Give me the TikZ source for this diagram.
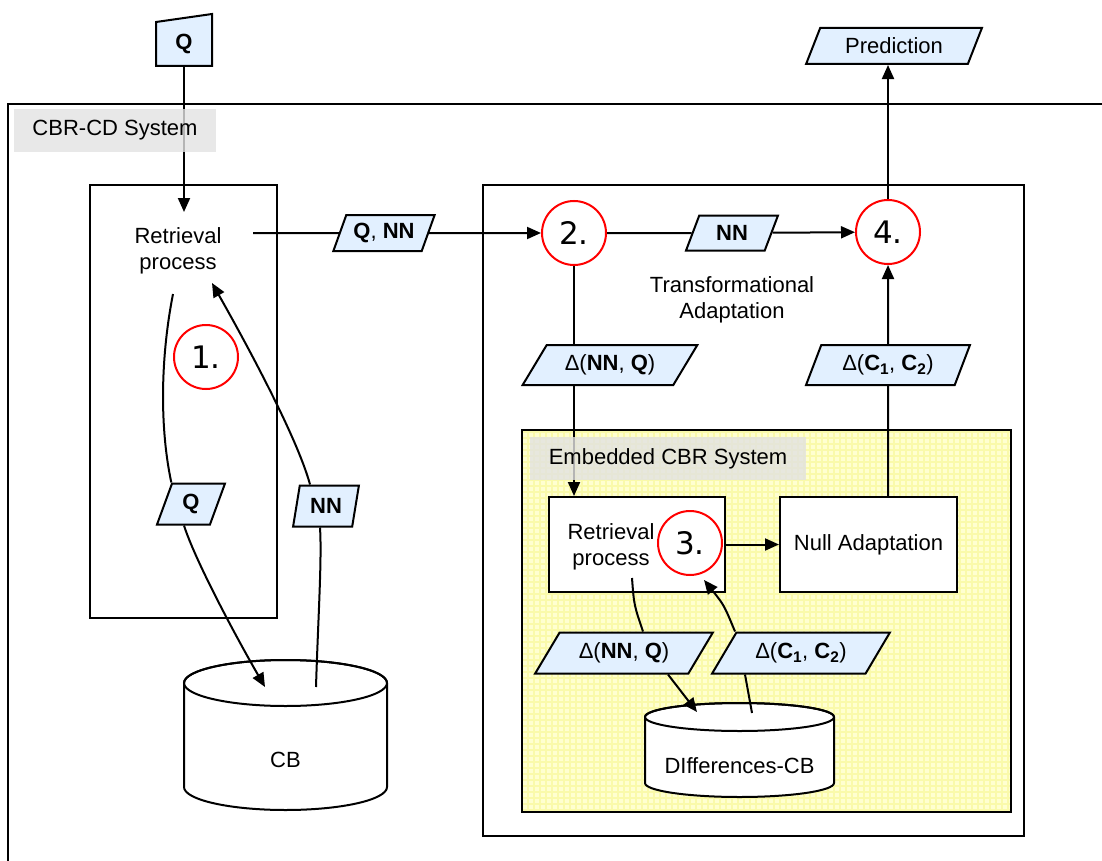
\documentclass[tikz,border=0pt]{standalone}
\usepackage{fontspec}
\setmainfont{Liberation Sans}
\newfontfamily\stagefont{DejaVu Sans}
\usetikzlibrary{calc,shapes.geometric,arrows.meta}
\definecolor{dataBlue}{RGB}{226,240,255}
\definecolor{labelGray}{RGB}{226,226,226}
\definecolor{embedYellow}{RGB}{255,255,208}
\definecolor{embedGrid}{RGB}{250,250,170}
\newcommand{\makebase}[7]{
	\filldraw[fill=white] (#2-#5,#3) -- (#2-#5,#4)
		arc[start angle=180, end angle=0, x radius=#5, y radius=#6]
		-- (#2+#5,#3)
		arc[start angle=0, end angle=-180, x radius=#5, y radius=#6] -- cycle;
	\draw (#2,#3) ellipse[x radius=#5, y radius=#6];
	\node (#1) at (#2,{(#3+#4)/2+#6+2}) {#7};
}
\tikzset{
	datum/.style={trapezium, trapezium left angle=#1, trapezium right angle={180-#1},
		trapezium stretches=true, draw, fill=dataBlue, inner sep=0pt, line width=2pt},
	stage/.style={circle, draw=red, minimum size=64, inner sep=0pt, line width=2pt,
		font=\stagefont\fontsize{31}{34}\selectfont},
	procbox/.style={draw, fill=white, minimum width=177, minimum height=95, line width=2pt},
	tagbox/.style={fill=labelGray, fill opacity=0.8, text opacity=1, minimum height=43}
}

\begin{document}
\begin{tikzpicture}[x=1pt,y=-1pt,line width=2pt,>={Triangle[length=14pt,width=12pt]},
	font=\fontsize{22}{26}\selectfont]
	\useasboundingbox (0,0) rectangle (1102,861);
	\clip (0,0) rectangle (1102,861);

	% containers
	\draw[line width=2.4pt] (8,104) rectangle (1120,880);
	\draw (90,185) rectangle (277,618);
	\draw (483,185) rectangle (1024,836);
	\fill[embedYellow] (522,430) rectangle (1011,812);
	\draw[embedGrid, line width=1.2pt, step=6pt] (522,430) grid (1011,812);
	\draw (522,430) rectangle (1011,812);

	% input and retrieval
	\filldraw[fill=dataBlue] (156,66) -- (156,22) -- (212,14) -- (212,66) -- cycle;
	\node[font=\bfseries\fontsize{22}{26}\selectfont, minimum width=56, minimum height=44, inner sep=0pt] (qIn) at (184,44) {Q};
	\node[align=center] (retr1) at (178,251) {Retrieval\\process};
	\coordinate (retIn) at (184,212);
	\coordinate (qnStart) at (253,233);
	\coordinate (retA) at (173,294);
	\coordinate (retB) at (212,283);
	\node[stage] (c1) at (206,357) {1.};

	\node[datum=62, minimum width=102, minimum height=36] (dQN) at (384,233) {\textbf{Q}, \textbf{NN}};
	\node[datum=71, minimum width=68, minimum height=41] (dQ) at (191,504) {\textbf{Q}};
	\node[datum=75, minimum width=66, minimum height=41] (dNNb) at (326,506) {\textbf{NN}};

	\makebase{cb}{285.5}{683}{787}{101.5}{23}{CB}
	\coordinate (cbIn) at (265,687);
	\coordinate (cbOut) at (316,687);

	% transformational adaptation
	\node[stage] (c2) at (574,233) {2.};
	\node[stage] (c4) at (888,232) {4.};
	\node[datum=67, minimum width=92, minimum height=35] (dNN) at (732,233) {\textbf{NN}};
	\node[datum=60, minimum width=176, minimum height=36] (dPred) at (894,46) {Prediction};
	\node[align=center] (tAd) at (732,300) {Transformational\\Adaptation};
	\node[datum=50, minimum width=175, minimum height=40] (dDiffA) at (610,365) {Δ(\textbf{NN}, \textbf{Q})};
	\node[datum=63, minimum width=164, minimum height=40] (dDiffB) at (888,365) {Δ(\textbf{C\textsubscript{1}}, \textbf{C\textsubscript{2}})};

	% embedded system
	\node[procbox, minimum width=176, label={[align=center, xshift=-26pt, yshift=-2pt]center:Retrieval\\process}] (ret3) at (637,544.5) {};
	\node[stage] (c3) at (690,543) {3.};
	\node[procbox] (nullAd) at (868.5,544.5) {Null Adaptation};
	\node[datum=50, minimum width=178, minimum height=41] (dDiffC) at (624,653) {Δ(\textbf{NN}, \textbf{Q})};
	\node[datum=50, minimum width=178, minimum height=41] (dDiffD) at (801,653) {Δ(\textbf{C\textsubscript{1}}, \textbf{C\textsubscript{2}})};
	\makebase{dcb}{739.5}{717}{783}{94.5}{14}{DIfferences-CB}
	\coordinate (ret3Out) at (632,578);
	\coordinate (c3In) at (704,580);
	\coordinate (dcbIn) at (697,712);
	\coordinate (dcbOut) at (752,713);

	% connectors
	\draw[->] (qIn) -- (retIn);
	\draw[->] (qnStart) -- (dQN) -- (c2);
	\draw (retA) .. controls (160,360) and (160,430) .. (dQ.top left corner);
	\draw[->] ([xshift=-7pt]dQ.south) .. controls (195,560) and (235,635) .. (cbIn);
	\draw (cbOut) .. controls (318,620) and (322,560) .. ([xshift=-6pt]dNNb.south);
	\draw[->] ([xshift=-16pt]dNNb.north) .. controls (298,440) and (250,350) .. (retB);
	\draw[->] (c2) -- (dNN) -- (c4);
	\draw[->] (c4) -- (c4 |- dPred.south);
	\draw (c2) -- (c2 |- dDiffA.north);
	\draw[->] (c2 |- dDiffA.south) -- (c2 |- ret3.north);
	\draw (dDiffB |- nullAd.north) -- (dDiffB.south);
	\draw[->] (dDiffB.north) -- (c4);
	\draw[->] (ret3) -- (nullAd);
	\draw (ret3Out) .. controls (634,605) .. ([xshift=19pt]dDiffC.north);
	\draw[->] ([xshift=44pt]dDiffC.south) -- (dcbIn);
	\draw (dcbOut) -- ([xshift=-56pt]dDiffD.south);
	\draw[->] ([xshift=-66pt]dDiffD.north) .. controls (724,605) .. (c3In);

	% system labels
	\node[tagbox, minimum width=202] (sysTag) at (115,130.5) {CBR-CD System};
	\node[tagbox, minimum width=276] (embTag) at (668,458.5) {Embedded CBR System};
\end{tikzpicture}
\end{document}
